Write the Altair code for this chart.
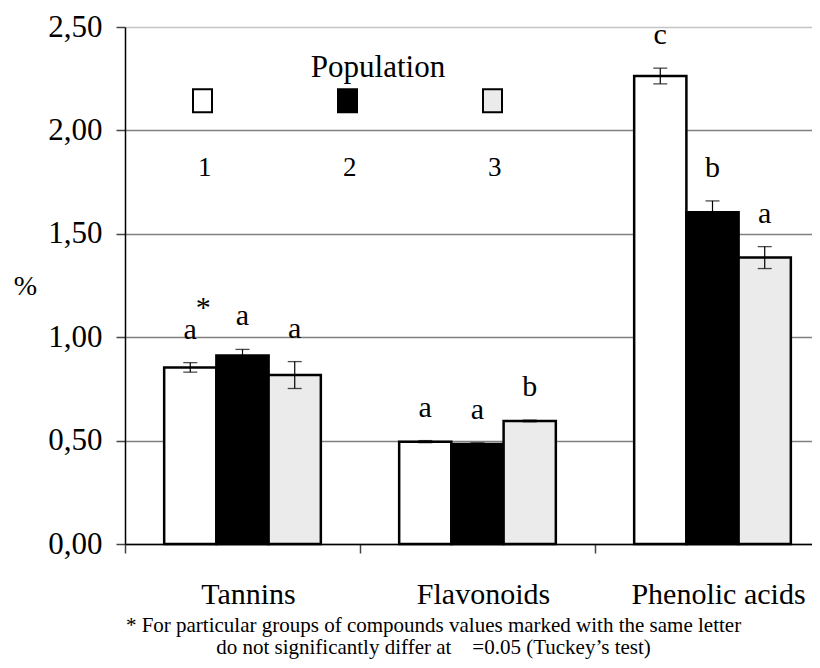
import altair as alt
import pandas as pd

compounds = ["Tannins", "Flavonoids", "Phenolic acids"]
populations = ["1", "2", "3"]

tannins_mean = [0.854, 0.911, 0.817]
tannins_err = [0.023, 0.030, 0.065]
tannins_letter = ["a", "a", "a"]

flavonoids_mean = [0.495, 0.484, 0.595]
flavonoids_err = [0.005, 0.005, 0.004]
flavonoids_letter = ["a", "a", "b"]

phenolic_mean = [2.263, 1.604, 1.385]
phenolic_err = [0.038, 0.055, 0.053]
phenolic_letter = ["c", "b", "a"]

y_ticks = [0, 0.5, 1.0, 1.5, 2.0, 2.5]
pop_colors = ["#ffffff", "#000000", "#ebebeb"]

footnote_1 = "* For particular groups of compounds values marked with the same letter"
footnote_2 = "do not significantly differ at\u00a0\u00a0\u00a0 =0.05 (Tuckey\u2019s test)"

rows = []
for comp, means, errs, letters in [
    ("Tannins", tannins_mean, tannins_err, tannins_letter),
    ("Flavonoids", flavonoids_mean, flavonoids_err, flavonoids_letter),
    ("Phenolic acids", phenolic_mean, phenolic_err, phenolic_letter),
]:
    for i, p in enumerate(populations):
        rows.append({
            "compound": comp,
            "pop": p,
            "mean": means[i],
            "lo": means[i] - errs[i],
            "hi": means[i] + errs[i],
            "letter": letters[i],
            "star": "*" if (comp == "Tannins" and p == "1") else "",
        })
df = pd.DataFrame(rows)

FONT = "Liberation Serif"
NOTE_FONT = "Liberation Serif, Times New Roman, serif"

x_enc = alt.X(
    "compound:N",
    sort=compounds,
    scale=alt.Scale(range=[0, 705], paddingInner=0, paddingOuter=0),
    axis=alt.Axis(
        title=None,
        bandPosition=0,
        labelOffset=6,
        labelFont=FONT,
        labelFontSize=30,
        labelColor="black",
        labelPadding=26,
        labelAngle=0,
        tickSize=9,
        tickColor="#444444",
        tickWidth=1.5,
        domainColor="black",
        domainWidth=1.5,
        grid=False,
    ),
)
xoff_enc = alt.XOffset(
    "pop:N", sort=populations, scale=alt.Scale(paddingInner=0, paddingOuter=0.75)
)

y_axis = alt.Axis(
    values=y_ticks,
    labelExpr="replace(format(datum.value, '.2f'), '.', ',')",
    labelFont=FONT,
    labelFontSize=31,
    labelColor="black",
    labelPadding=14,
    tickSize=9,
    tickColor="#444444",
    tickWidth=1.5,
    domainColor="black",
    domainWidth=1.5,
    grid=True,
    gridColor={"condition": {"test": "datum.value > 2.4", "value": "#c4c4c4"}, "value": "#808080"},
    gridWidth=1.5,
    title="%",
    titleAngle=0,
    titleX=-100,
    titleY=259,
    titleAlign="center",
    titleBaseline="middle",
    titleFont=FONT,
    titleFontSize=28,
    titleFontWeight="normal",
    titleColor="black",
)

base = alt.Chart(df)

bars = base.mark_bar(stroke="black", strokeWidth=2.5).encode(
    x=x_enc,
    xOffset=xoff_enc,
    y=alt.Y("mean:Q", scale=alt.Scale(domain=[0, 2.5], nice=False), axis=y_axis),
    fill=alt.Fill(
        "pop:N",
        sort=populations,
        scale=alt.Scale(domain=populations, range=pop_colors),
        legend=alt.Legend(
            title="Population",
            orient="none",
            legendX=124,
            legendY=26,
            direction="horizontal",
            symbolType="M-6.95,-7.85L-5.05,-7.85L-5.05,-5.55L-6.95,-5.55Z",
            symbolSize=400,
            symbolStrokeColor="black",
            symbolStrokeWidth=2,
            labelAlign="left",
            labelOffset={"expr": "-78"},
            labelFont=FONT,
            labelFontSize=27,
            labelColor="black",
            columnPadding=85,
            titleFont=FONT,
            titleFontSize=31,
            titleFontWeight="normal",
            titleColor="black",
            titleAnchor="middle",
            titlePadding=70,
            padding=0,
        ),
    ),
)

err = base.mark_rule(color="black", strokeWidth=1.2).encode(
    x=x_enc, xOffset=xoff_enc, y="lo:Q", y2="hi:Q"
)
cap_lo = base.mark_tick(color="black", thickness=1.3, size=14).encode(
    x=x_enc, xOffset=xoff_enc, y="lo:Q"
)
cap_hi = base.mark_tick(color="black", thickness=1.3, size=14).encode(
    x=x_enc, xOffset=xoff_enc, y="hi:Q"
)
letters = base.mark_text(
    font=FONT, fontSize=30, color="black", baseline="alphabetic", dy=-24
).encode(x=x_enc, xOffset=xoff_enc, y="hi:Q", text="letter:N")
stars = base.transform_filter("datum.star != ''").mark_text(
    font=FONT, fontSize=30, color="black", baseline="alphabetic", dx=13, dy=-46
).encode(x=x_enc, xOffset=xoff_enc, y="hi:Q", text="star:N")

chart = (
    alt.layer(bars, err, cap_lo, cap_hi, letters, stars)
    .properties(
        width=687,
        height=517,
        padding={"left": 117, "top": 19, "right": 0, "bottom": 116},
        autosize=alt.AutoSizeParams(type="none"),
        title=alt.TitleParams(
            text=footnote_1,
            subtitle=footnote_2,
            orient="bottom",
            anchor="middle",
            dx=-35,
            offset=6,
            font=NOTE_FONT,
            fontSize=21,
            fontWeight="normal",
            color="black",
            subtitleFont=NOTE_FONT,
            subtitleFontSize=21,
            subtitleColor="black",
            subtitlePadding=1,
        ),
    )
    .configure_view(strokeWidth=0)
    .configure_title(font=NOTE_FONT, subtitleFont=NOTE_FONT)
)

chart.save("out.html", embed_options={"renderer": "svg", "actions": False})
